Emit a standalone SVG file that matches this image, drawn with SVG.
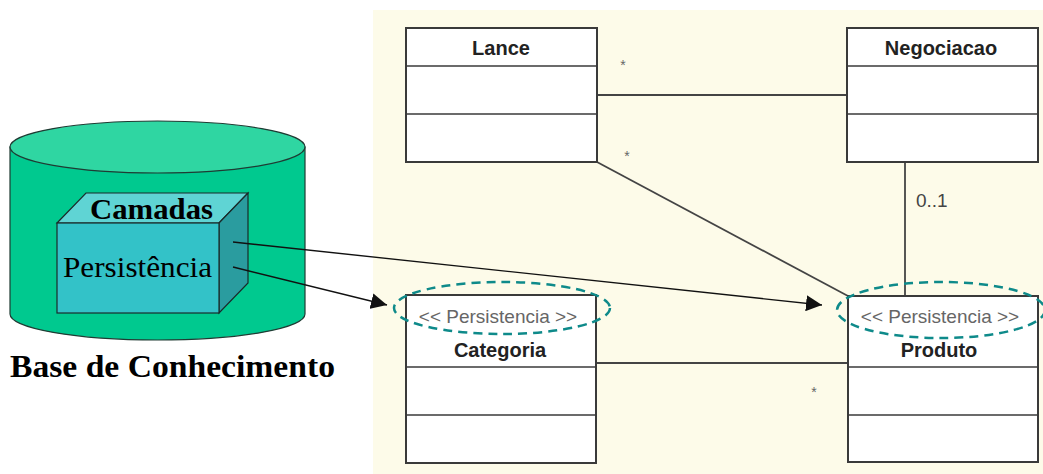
<svg xmlns="http://www.w3.org/2000/svg" width="1043" height="474" viewBox="0 0 1043 474">
<defs>
<style>
.cls{fill:#fff;stroke:#3a3a3a;stroke-width:2}
.div{stroke:#3a3a3a;stroke-width:1.6}
.name{font-family:"Liberation Sans",Arial,sans-serif;font-weight:bold;font-size:20px;fill:#222;text-anchor:middle}
.st{font-family:"Liberation Sans",Arial,sans-serif;font-size:19px;fill:#666;text-anchor:middle}
.assoc{stroke:#444;stroke-width:1.8;fill:none}
.mult{font-family:"Liberation Sans",Arial,sans-serif;font-size:14px;fill:#666;text-anchor:middle}
.ell{fill:none;stroke:#0e8a8a;stroke-width:2.5;stroke-dasharray:9 6}
.arr{stroke:#111;stroke-width:1.4;fill:none;marker-end:url(#ah)}
.serif{font-family:"Liberation Serif","Times New Roman",serif;fill:#000}
</style>
<marker id="ah" viewBox="0 0 16 16" refX="16" refY="8" markerWidth="16" markerHeight="16" markerUnits="userSpaceOnUse" orient="auto">
<path d="M0,0 L16,8 L0,16 Z" fill="#111"/>
</marker>
</defs>
<rect width="1043" height="474" fill="#fff"/>
<rect x="373" y="10" width="670" height="464" fill="#fdfbe9"/>

<g id="base-conhecimento">
<path d="M10,147 L10,314 A147.5,26 0 0 0 305,314 L305,147 Z" fill="#00c98f" stroke="#1f3b33" stroke-width="1.2"/>
<ellipse cx="157.5" cy="147" rx="147.5" ry="26" fill="#2fd6a2" stroke="#1f3b33" stroke-width="1.2"/>
<text x="10" y="377" class="serif" font-size="32" font-weight="bold" textLength="325" lengthAdjust="spacingAndGlyphs">Base de Conhecimento</text>
</g>

<g id="camadas">
<polygon points="57,223 86,193 248,193 219,223" fill="#5fd4d4" stroke="#1a2a2a" stroke-width="1.2"/>
<polygon points="219,223 248,193 248,283 219,313" fill="#2a9c9f" stroke="#1a2a2a" stroke-width="1.2"/>
<rect x="57" y="223" width="162" height="90" fill="#33c2c8" stroke="#1a2a2a" stroke-width="1.2"/>
<text x="90" y="219" class="serif" font-size="30" font-weight="bold" textLength="123" lengthAdjust="spacingAndGlyphs">Camadas</text>
<text x="63" y="277" class="serif" font-size="30" textLength="149" lengthAdjust="spacingAndGlyphs">Persistência</text>
</g>

<g id="connectors">
<line class="assoc" x1="597" y1="95" x2="847" y2="95"/>
<line class="assoc" x1="597" y1="162" x2="848" y2="296"/>
<line class="assoc" x1="905" y1="162" x2="905" y2="296"/>
<line class="assoc" x1="596" y1="363" x2="848" y2="363"/>
<text class="mult" x="623" y="70">*</text>
<text class="mult" x="627" y="161">*</text>
<text class="mult" x="814" y="397">*</text>
<text x="916" y="207" font-family="Liberation Sans,Arial,sans-serif" font-size="19" fill="#444">0..1</text>
<line class="arr" x1="233" y1="242" x2="822" y2="305"/>
<line class="arr" x1="233" y1="267" x2="387" y2="305"/>
</g>

<g id="lance">
<rect class="cls" x="406" y="28" width="191" height="134"/>
<line class="div" x1="406" y1="66" x2="597" y2="66"/>
<line class="div" x1="406" y1="114" x2="597" y2="114"/>
<text class="name" x="501" y="55">Lance</text>
</g>

<g id="negociacao">
<rect class="cls" x="847" y="28" width="191" height="134"/>
<line class="div" x1="847" y1="66" x2="1038" y2="66"/>
<line class="div" x1="847" y1="114" x2="1038" y2="114"/>
<text class="name" x="941" y="55">Negociacao</text>
</g>

<g id="categoria">
<rect class="cls" x="406" y="295" width="190" height="168"/>
<line class="div" x1="406" y1="367" x2="596" y2="367"/>
<line class="div" x1="406" y1="415" x2="596" y2="415"/>
<text class="st" x="498" y="323">&lt;&lt; Persistencia &gt;&gt;</text>
<text class="name" x="500" y="357">Categoria</text>
<ellipse class="ell" cx="502" cy="308" rx="108" ry="26"/>
</g>

<g id="produto">
<rect class="cls" x="848" y="296" width="190" height="166"/>
<line class="div" x1="848" y1="367" x2="1038" y2="367"/>
<line class="div" x1="848" y1="415" x2="1038" y2="415"/>
<text class="st" x="940" y="323">&lt;&lt; Persistencia &gt;&gt;</text>
<text class="name" x="939" y="357">Produto</text>
<ellipse class="ell" cx="941" cy="310" rx="104" ry="28"/>
</g>
</svg>
